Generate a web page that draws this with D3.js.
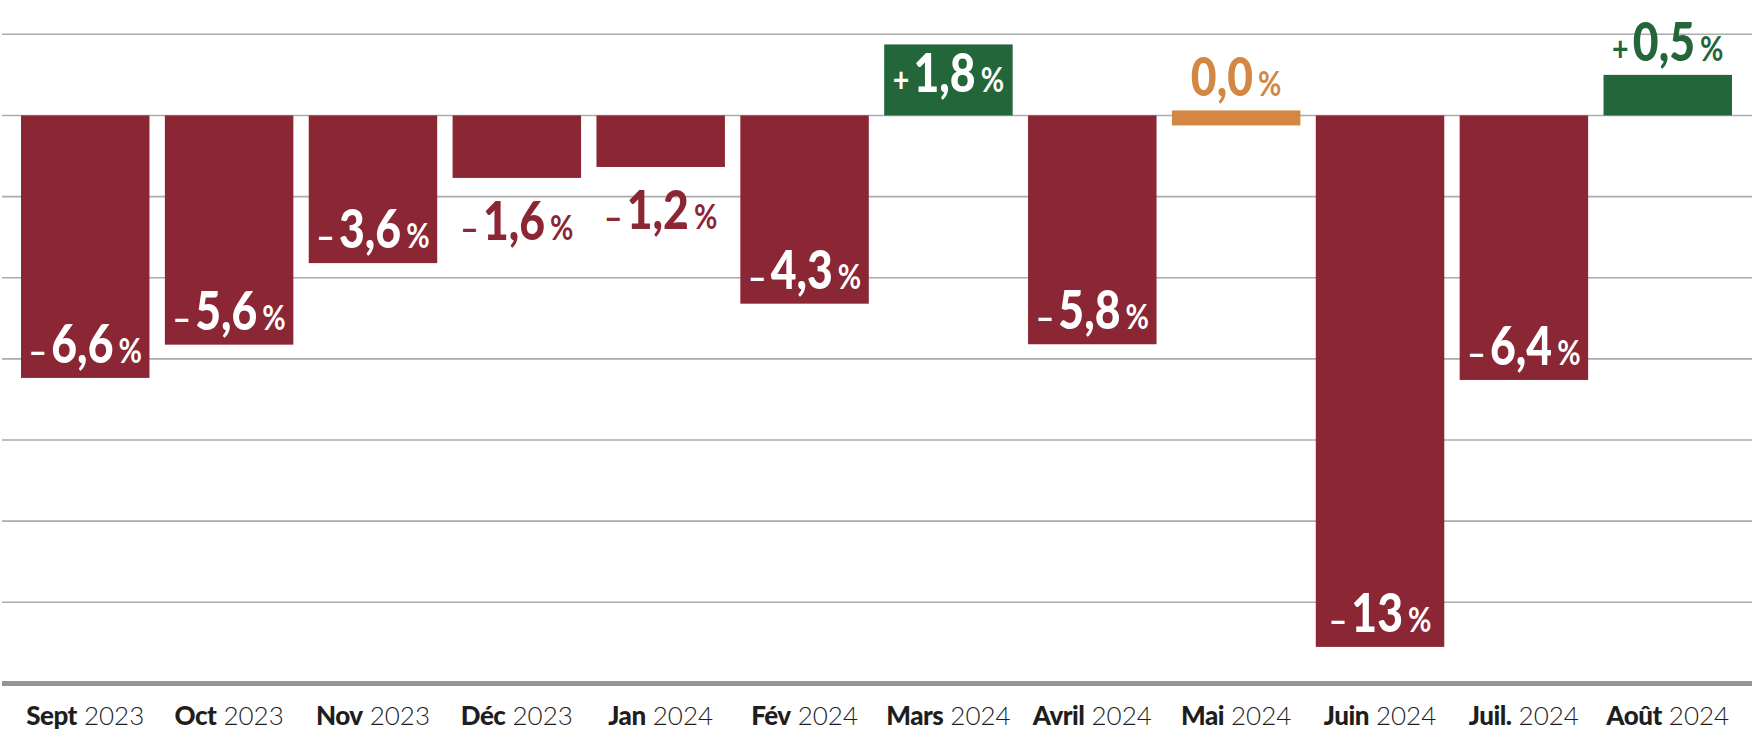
<!DOCTYPE html>
<html>
<head>
<meta charset="utf-8">
<script src="https://cdn.jsdelivr.net/npm/d3@7"></script>
<style>
  html, body { margin: 0; padding: 0; background: #ffffff; }
  svg { display: block; }
</style>
</head>
<body>
<svg id="chart" width="1752" height="733"></svg>
<script>
// ---- Data ----
const months = ["Sept", "Oct", "Nov", "Déc", "Jan", "Fév", "Mars", "Avril", "Mai", "Juin", "Juil.", "Août"];
const years  = ["2023", "2023", "2023", "2023", "2024", "2024", "2024", "2024", "2024", "2024", "2024", "2024"];
// bar heights as drawn (percent)
const values = [-6.47, -5.65, -3.64, -1.54, -1.27, -4.64, 1.75, -5.64, 0, -13.1, -6.52, 1.0];
// printed labels
const labelSigns   = ["–", "–", "–", "–", "–", "–", "+", "–", "", "–", "–", "+"];
const labelNumbers = ["6,6", "5,6", "3,6", "1,6", "1,2", "4,3", "1,8", "5,8", "0,0", "13", "6,4", "0,5"];
const labelPlacement = ["in", "in", "in", "out", "out", "in", "in", "in", "out", "in", "in", "out"];
const gridTicks = [2, 0, -2, -4, -6, -8, -10, -12];
const axisValue = -14;

// ---- Styles ----
const RED = "#8B2634", GREEN = "#22663A", ORANGE = "#D38742";
const colorOf = v => v < 0 ? RED : (v > 0 ? GREEN : ORANGE);

const W = 1752, H = 733;
const svg = d3.select("#chart");

const x = d3.scaleBand()
  .domain(months)
  .range([21, 1732])
  .paddingInner(0.107)
  .paddingOuter(0);

const y = d3.scaleLinear()
  .domain([axisValue, 2])
  .range([683.4, 34.3]);

// gridlines
svg.append("g")
  .selectAll("line")
  .data(gridTicks)
  .join("line")
  .attr("x1", 2).attr("x2", W)
  .attr("y1", d => y(d)).attr("y2", d => y(d))
  .attr("stroke", "#ababab")
  .attr("stroke-width", 1.6);

// bottom axis line
svg.append("line")
  .attr("x1", 2).attr("x2", W)
  .attr("y1", y(axisValue)).attr("y2", y(axisValue))
  .attr("stroke", "#959595")
  .attr("stroke-width", 5);

const data = months.map((m, i) => ({
  month: m, year: years[i], value: values[i],
  sign: labelSigns[i], num: labelNumbers[i], place: labelPlacement[i]
}));

// bars
svg.append("g")
  .selectAll("rect")
  .data(data)
  .join("rect")
  .attr("x", d => x(d.month))
  .attr("width", x.bandwidth())
  .attr("y", d => d.value === 0 ? y(0) - 5 : y(Math.max(0, d.value)))
  .attr("height", d => d.value === 0 ? 15 : Math.abs(y(d.value) - y(0)))
  .attr("fill", d => colorOf(d.value));

// value labels
function baseline(d) {
  if (d.value < 0) {
    return d.place === "in" ? y(d.value) - 15 : y(d.value) + 62;
  }
  if (d.place === "in") return y(0) - 23.5;
  const top = d.value === 0 ? y(0) - 5 : y(d.value);
  return top - 14;
}

const labels = svg.append("g")
  .attr("font-family", "Lato, 'Open Sans', sans-serif")
  .attr("font-weight", 900)
  .selectAll("text")
  .data(data)
  .join("text")
  .attr("transform", d => `translate(${x(d.month) + x.bandwidth() / 2},${baseline(d)}) scale(0.84,1)`)
  .attr("text-anchor", "middle")
  .attr("fill", d => d.place === "in" ? "#ffffff" : colorOf(d.value));

labels.each(function(d) {
  const t = d3.select(this);
  if (d.sign) {
    t.append("tspan")
      .attr("font-size", d.sign === "+" ? 34 : 38)
      .attr("font-weight", 700)
      .attr("dy", d.sign === "+" ? 0 : 2)
      .text(d.sign);
  }
  t.append("tspan").attr("font-size", 53)
    .attr("dx", d.sign ? 5 : 0)
    .attr("dy", d.sign === "–" ? -2 : 0)
    .text(d.num);
  t.append("tspan").attr("font-size", 34).attr("font-weight", 700).attr("dx", 6).text("%");
});

// x-axis labels
const xl = svg.append("g")
  .attr("font-family", "Lato, 'Open Sans', sans-serif")
  .attr("font-size", 26)
  .attr("fill", "#1e1e1e")
  .selectAll("text")
  .data(data)
  .join("text")
  .attr("x", d => x(d.month) + x.bandwidth() / 2)
  .attr("y", 725)
  .attr("text-anchor", "middle");

xl.append("tspan").attr("font-weight", 900).attr("letter-spacing", -0.5).text(d => d.month);
xl.append("tspan").attr("font-weight", 300).text(d => " " + d.year);
</script>
</body>
</html>
